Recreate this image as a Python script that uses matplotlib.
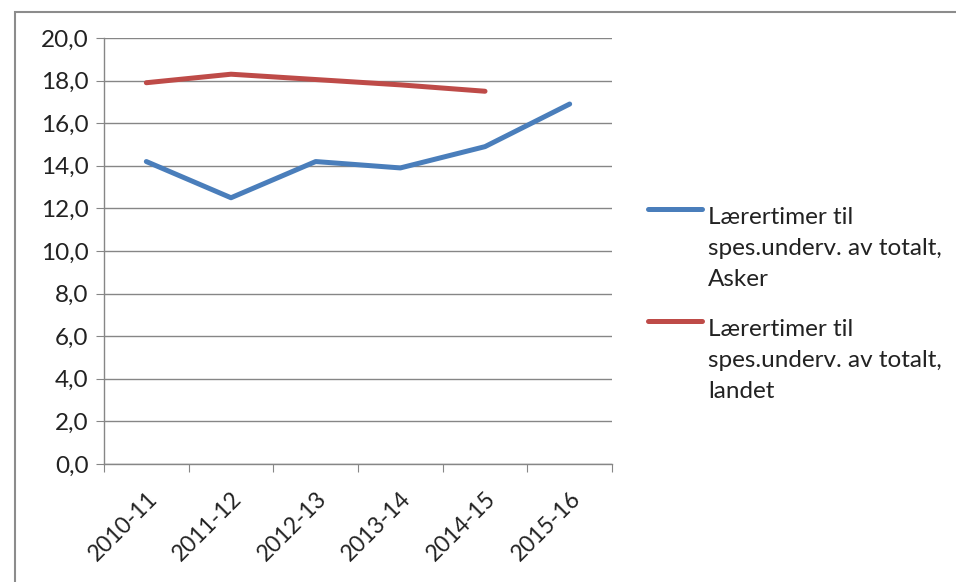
import matplotlib
matplotlib.use("Agg")
import matplotlib.pyplot as plt
from matplotlib.lines import Line2D
from matplotlib.patches import Rectangle

categories = ["2010-11", "2011-12", "2012-13", "2013-14", "2014-15", "2015-16"]
asker = [14.2, 12.5, 14.2, 13.9, 14.9, 16.9]
landet = [17.9, 18.3, 18.05, 17.8, 17.5]
series_labels = ["Lærertimer til\nspes.underv. av totalt,\nAsker",
                 "Lærertimer til\nspes.underv. av totalt,\nlandet"]
yticks = [0, 2, 4, 6, 8, 10, 12, 14, 16, 18, 20]

W, H = 956, 582
plt.rcParams['font.family'] = ['Lato', 'DejaVu Sans']
fig = plt.figure(figsize=(W/100, H/100), dpi=100)
fig.patch.set_facecolor('white')

# outer border
fig.add_artist(Rectangle((15/W, -0.1), 1.2, 1 - 12/H + 0.1, transform=fig.transFigure,
                         fill=False, edgecolor='#8c8c8c', lw=1.5))

ax = fig.add_axes([104/W, 1 - 464/H, (612-104)/W, (464-38)/H])
blue = '#4A7EBB'
red = '#BE4B48'
x = list(range(len(categories)))
ax.plot(x, asker, color=blue, lw=3.6, solid_capstyle='round', solid_joinstyle='round', zorder=3)
ax.plot(x[:len(landet)], landet, color=red, lw=3.6, solid_capstyle='round', solid_joinstyle='round', zorder=3)

ax.set_xlim(-0.5, len(categories) - 0.5)
ax.set_ylim(0, 20)
ax.set_yticks(yticks)
ax.set_yticklabels([f"{v:.1f}".replace('.', ',') for v in yticks], fontsize=17.5, color='#222222')
ax.yaxis.grid(True, color='#868686', lw=1)
ax.set_axisbelow(True)

ax.set_xticks([i - 0.5 for i in range(len(categories) + 1)])
ax.set_xticklabels([])
ax.set_xticks(x, minor=True)
ax.set_xticklabels(categories, minor=True, rotation=45, ha='right', rotation_mode='anchor',
                   fontsize=16.5, color='#222222')
ax.tick_params(axis='x', which='minor', length=0, pad=17)
ax.tick_params(axis='x', which='major', length=6, color='#868686')
ax.tick_params(axis='y', length=6, color='#868686', pad=5)
for s in ['top', 'right']:
    ax.spines[s].set_visible(False)
for s in ['left', 'bottom']:
    ax.spines[s].set_color('#868686')
    ax.spines[s].set_linewidth(1)

# legend (manual)
for i, (lab, col) in enumerate(zip(series_labels, [blue, red])):
    yline = 209 + i * 112
    fig.add_artist(Line2D([648/W, 702/W], [1 - yline/H, 1 - yline/H], transform=fig.transFigure,
                          color=col, lw=3.6, solid_capstyle='round'))
    fig.text(708/W, 1 - (yline + 13 + 64)/H, lab, fontsize=17.5, va='baseline', ha='left', color='#222222',
             linespacing=1.6, transform=fig.transFigure)

fig.savefig("out.png", dpi=100)
